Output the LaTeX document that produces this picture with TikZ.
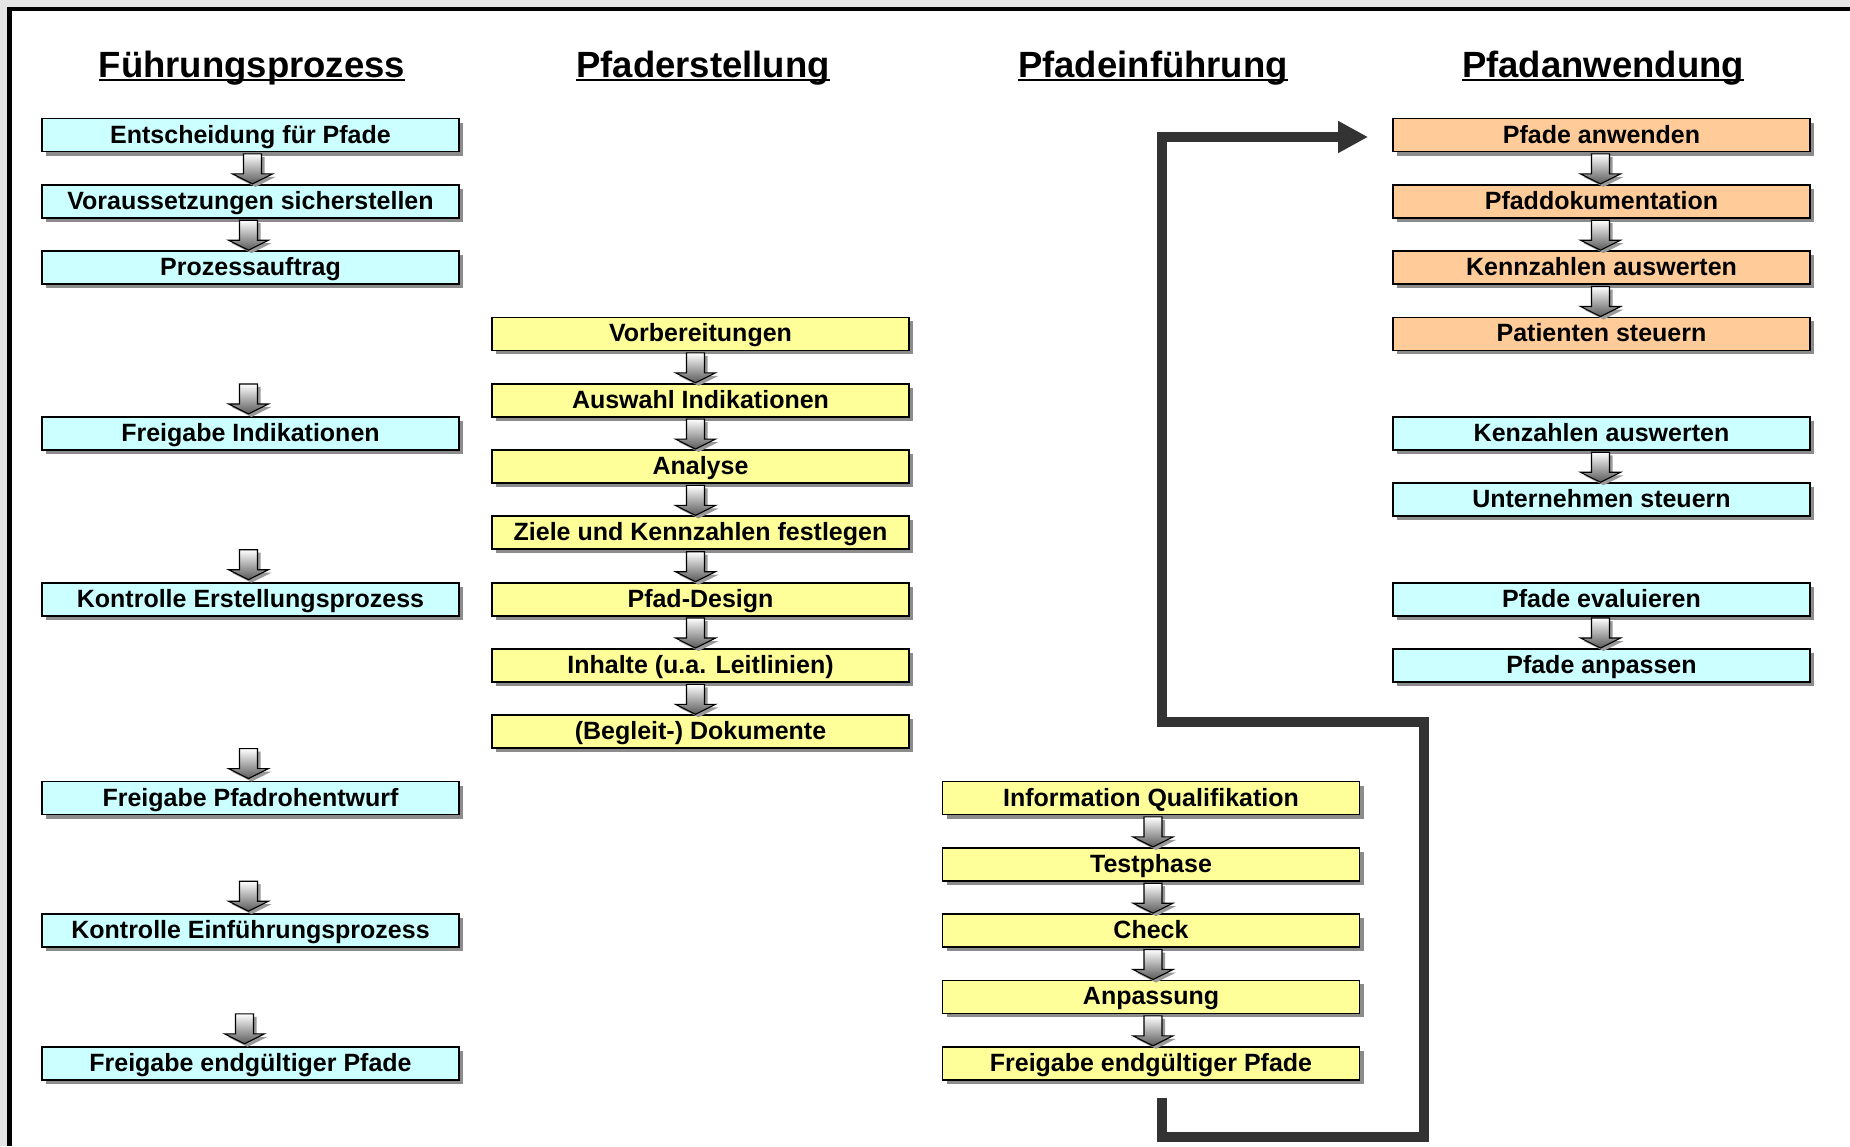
\documentclass[tikz,border=0pt]{standalone}
\usepackage{fontspec}
\setmainfont{Liberation Sans}
\usetikzlibrary{calc,shadows,arrows.meta}
\definecolor{cyanfill}{HTML}{CCFFFF}
\definecolor{yellowfill}{HTML}{FFFF99}
\definecolor{orangefill}{HTML}{FFCC99}
\definecolor{loopgray}{HTML}{333333}
\tikzset{
  box/.style={draw=black, line width=1.8pt, minimum width=417pt, minimum height=33pt,
    inner sep=0pt, text height=18pt, text depth=2pt,
    font=\fontsize{25}{30}\selectfont\bfseries,
    drop shadow={shadow xshift=4pt, shadow yshift=-4pt, fill=black!45, opacity=1}},
  cbox/.style={box, fill=cyanfill},
  ybox/.style={box, fill=yellowfill},
  obox/.style={box, fill=orangefill},
  coltitle/.style={inner sep=0pt, anchor=base, font=\fontsize{36.5}{44}\selectfont\bfseries},
  uline/.style={line width=2.6pt},
  bigline/.style={draw=loopgray, line width=10pt, line join=miter,
    -{Triangle[length=30pt,width=30pt]}},
  downarr/.pic={
    \fill[black!40] (-6,3) -- (12,3) -- (12,23) -- (23,23) -- (3,33) -- (-17,23) -- (-6,23) -- cycle;
    \path[draw=black, line width=1.1pt, top color=white, bottom color=black!65]
      (-9,0) -- (9,0) -- (9,20) -- (20,20) -- (0,30) -- (-20,20) -- (-9,20) -- cycle;
  }
}
\begin{document}
\begin{tikzpicture}[x=1pt,y=-1pt]
\useasboundingbox (0,0) rectangle (1850,1146);
\fill[white] (0,0) rectangle (1850,1146);
\fill[black!10] (0,0) rectangle (1850,7);
\fill[black!10] (0,0) rectangle (7,1146);
\draw[line width=4pt] (7,9) -- (1850,9);
\draw[line width=5pt] (9.5,7) -- (9.5,1146);

% titles
\node[coltitle] (t1) at (252,77) {Führungsprozess};
\node[coltitle] (t2) at (703,77) {Pfaderstellung};
\node[coltitle] (t3) at (1153,77) {Pfadeinführung};
\node[coltitle] (t4) at (1603,77) {Pfadanwendung};
\foreach \t in {t1,t2,t3,t4}
  \draw[uline] ($(\t.base west)+(0,3)$) -- ($(\t.base east)+(0,3)$);

% column 1
\node[cbox] (a1) at (250.5,135)    {Entscheidung für Pfade};
\node[cbox] (a2) at (250.5,201.3)  {Voraussetzungen sicherstellen};
\node[cbox] (a3) at (250.5,267.6)  {Prozessauftrag};
\node[cbox] (a4) at (250.5,433.35) {Freigabe Indikationen};
\node[cbox] (a5) at (250.5,599.1)  {Kontrolle Erstellungsprozess};
\node[cbox] (a6) at (250.5,798)    {Freigabe Pfadrohentwurf};
\node[cbox] (a7) at (250.5,930.6)  {Kontrolle Einführungsprozess};
\node[cbox] (a8) at (250.5,1063.2) {Freigabe endgültiger Pfade};

% column 2
\node[ybox] (b1) at (700.5,333.9) {Vorbereitungen};
\node[ybox] (b2) at (700.5,400.2) {Auswahl Indikationen};
\node[ybox] (b3) at (700.5,466.5) {Analyse};
\node[ybox] (b4) at (700.5,532.8) {Ziele und Kennzahlen festlegen};
\node[ybox] (b5) at (700.5,599.1) {Pfad-Design};
\node[ybox] (b6) at (700.5,665.4) {Inhalte (u.a. Leitlinien)};
\node[ybox] (b7) at (700.5,731.7) {(Begleit-) Dokumente};

% column 3
\node[ybox] (c1) at (1151,798)    {Information Qualifikation};
\node[ybox] (c2) at (1151,864.3)  {Testphase};
\node[ybox] (c3) at (1151,930.6)  {Check};
\node[ybox] (c4) at (1151,996.9)  {Anpassung};
\node[ybox] (c5) at (1151,1063.2) {Freigabe endgültiger Pfade};

% column 4
\node[obox] (d1) at (1601.5,135)    {Pfade anwenden};
\node[obox] (d2) at (1601.5,201.3)  {Pfaddokumentation};
\node[obox] (d3) at (1601.5,267.6)  {Kennzahlen auswerten};
\node[obox] (d4) at (1601.5,333.9)  {Patienten steuern};
\node[cbox] (d5) at (1601.5,433.35) {Kenzahlen auswerten};
\node[cbox] (d6) at (1601.5,499.65) {Unternehmen steuern};
\node[cbox] (d7) at (1601.5,599.1)  {Pfade evaluieren};
\node[cbox] (d8) at (1601.5,665.4)  {Pfade anpassen};

% block arrows column 1
\pic at ($(a1.south)+(2,1.5)$) {downarr};
\pic at ($(a2.south)+(-2,1.5)$) {downarr};
\pic at ($(a4.north)+(-2,-32)$) {downarr};
\pic at ($(a5.north)+(-2,-32)$) {downarr};
\pic at ($(a6.north)+(-2,-32)$) {downarr};
\pic at ($(a7.north)+(-2,-32)$) {downarr};
\pic at ($(a8.north)+(-6,-32)$) {downarr};
% column 2
\foreach \n in {b1,b2,b3,b4,b5,b6}
  \pic at ($(\n.south)+(-5,1.5)$) {downarr};
% column 3
\foreach \n in {c1,c2,c3,c4}
  \pic at ($(\n.south)+(2,1.5)$) {downarr};
% column 4
\foreach \n in {d1,d2,d3,d5,d7}
  \pic at ($(\n.south)+(-1,1.5)$) {downarr};

% big loop connector
\coordinate (loopstart) at ($(c5.south)+(11,17)$);
\coordinate (lc1) at (1162,1136.5);
\coordinate (lc2) at (1423.5,1136.5);
\coordinate (lc3) at (1423.5,722);
\coordinate (lc4) at (1162,722);
\coordinate (lc5) at (1162,137);
\coordinate (loopend) at ($(d1.west)+(-24,2)$);
\draw[bigline] (loopstart) -- (lc1) -- (lc2) -- (lc3) -- (lc4) -- (lc5) -- (loopend);
\end{tikzpicture}
\end{document}
